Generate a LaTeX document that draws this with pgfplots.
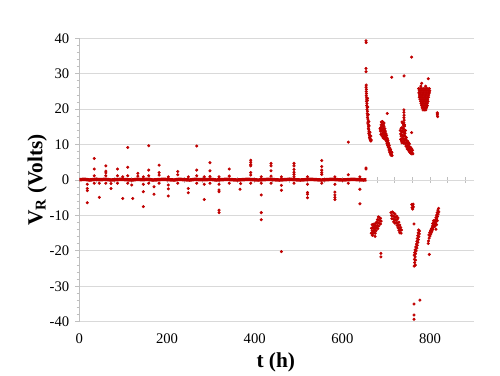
\documentclass[border=0pt]{standalone}
\usepackage{fontspec}
\setmainfont{Liberation Serif}
\usepackage{pgfplots}
\pgfplotsset{compat=1.18}
\definecolor{dred}{RGB}{192,0,0}
\definecolor{gridc}{RGB}{217,217,217}
\definecolor{axc}{RGB}{191,191,191}
\pgfplotsset{dots/.style={only marks, mark=*, mark size=0.95pt, dred}}
\begin{document}
\begin{tikzpicture}
% x axis line at y=0 with ticks every 40 h
\begin{axis}[
 at={(0,0)}, anchor=south west,
 scale only axis, width=295.9pt, height=212.55pt,
 xmin=0,xmax=900,ymin=-40,ymax=40,
 axis x line=middle, axis y line=none,
 axis line style={-, draw=axc, line width=0.75pt},
 xtick={0,40,...,880}, xticklabels={},
 major tick length=4pt, tick align=center,
 every tick/.style={draw=axc, line width=0.75pt},
]
\addplot[draw=none] coordinates {(0,0)};
\end{axis}
\begin{axis}[
 at={(0,0)}, anchor=south west,
 scale only axis, width=295.9pt, height=212.55pt,
 xmin=0,xmax=900,ymin=-40,ymax=40,
 axis x line*=bottom, axis y line*=left,
 x axis line style={draw=none},
 y axis line style={draw=axc, line width=0.75pt, -},
 xtick={0,200,...,800}, xticklabels={0,200,400,600,800},
 ytick={-40,-30,...,40}, yticklabels={-40,-30,-20,-10,0,10,20,30,40},
 minor y tick num=4,
 tick align=outside,
 major tick length=3pt, minor tick length=2pt,
 x tick style={draw=none},
 y tick style={draw=axc, line width=0.75pt},
 ymajorgrids, grid style={draw=gridc, line width=0.75pt},
 tick label style={font=\fontsize{11}{13}\selectfont},
 xticklabel style={anchor=center, yshift=-10pt},
 yticklabel style={anchor=east, xshift=-1pt},
 xlabel={\textbf{t (h)}}, ylabel={\textbf{V\textsubscript{R} (Volts)}},
 label style={font=\fontsize{16}{19}\selectfont},
 xlabel style={at={(axis description cs:0.498,-0.142)}, anchor=center},
 ylabel style={at={(axis description cs:-0.107,0.5)}, anchor=center},
]
% baseline band
\addplot[draw=dred, line width=2.6pt] coordinates {
(0,0.1)(12,0.2)(24,0.0)(36,0.2)(48,0.1)(60,0.2)(72,0.0)(84,0.1)(96,0.2)(108,0.1)
(120,0.0)(132,0.2)(144,0.1)(156,0.2)(168,0.0)(180,0.1)(192,0.2)(204,0.1)(216,0.0)
(228,0.2)(240,0.1)(252,0.0)(264,0.2)(276,0.1)(288,0.1)(300,0.2)(312,0.0)(324,0.1)
(336,0.2)(348,0.1)(360,0.0)(372,0.1)(384,0.2)(396,0.1)(408,0.0)(420,0.1)(432,0.2)
(444,0.1)(456,0.0)(468,0.1)(480,0.2)(492,0.1)(504,0.0)(516,0.1)(528,0.2)(540,0.1)
(552,0.0)(564,0.1)(576,0.2)(588,0.1)(600,0.0)(612,0.1)(624,0.2)(636,0.1)(648,0.0)(655,0.1)};
% spikes near baseline
\addplot[dots] coordinates {
(34,6.1)(34,3.1)(34,1.2)(60.5,4.0)(60.5,2.5)(60.5,2.0)(60.5,1.2)(87,3.1)(87,1.2)
(110.4,9.2)(110.4,3.6)(110.4,1.2)(133.5,1.9)(133.5,1.1)(158.3,9.7)(158.3,2.8)(158.3,1.2)
(182,4.2)(182,2.1)(182,1.4)(224.5,2.4)(224.5,1.5)(267.8,9.6)(267.8,2.8)(267.8,1.2)
(298,4.9)(298,2.6)(298,1.0)(342,3.1)(342,1.1)
(391,5.6)(391,5.0)(391,4.4)(391,4.0)(391,2.1)(391,1.4)
(437.3,4.7)(437.3,4.0)(437.3,2.6)(437.3,1.1)
(489.7,4.7)(489.7,4.0)(489.7,3.0)(489.7,2.2)(489.7,1.6)(489.7,0.9)
(553,5.5)(553,3.8)(553,2.8)(553,2.1)(553,1.6)(613.6,10.7)(613.6,1.5)(654,3.1)
(18.2,-2.4)(18.2,-3.0)(18.2,-6.4)(18.2,-1.2)(45.6,-4.9)(45.6,-0.9)(72.3,-2.4)(72.3,-1.0)
(99,-5.2)(119.5,-1.4)(121.8,-5.2)(146,-3.3)(146,-7.5)(146,-1.2)(170.4,-1.9)(170.4,-4.0)
(203,-1.4)(203,-2.5)(203,-4.5)(248.6,-2.4)(248.6,-3.6)(285,-1.2)(285,-5.5)
(318.7,-2.8)(318.7,-3.3)(318.7,-8.5)(318.7,-9.2)(318.7,-1.2)(366.6,-2.6)(368,-1.0)
(415,-0.9)(415,-4.2)(415,-9.2)(415,-11.2)(461,-1.5)(461,-2.9)(461,-20.2)
(520.5,-3.5)(520.5,-4.0)(520.5,-5.0)(520.5,-1.2)
(583,-1.2)(583,-3.4)(583,-4.2)(583,-4.9)(583,-5.5)(640,-2.6)(640,-6.7)
(99,0.9)(146,0.9)(203,0.9)(248.6,0.9)(285,0.9)(318.7,0.9)(415,0.9)(461,0.9)(520.5,0.9)(583,0.9)(640,0.9)
(34,-0.9)(60.5,-0.9)(87,-0.9)(110.4,-0.9)(158.3,-0.9)(182,-0.9)(224.5,-0.9)(267.8,-0.9)(298,-0.9)(342,-0.9)(391,-0.9)(437.3,-0.9)(489.7,-0.9)(553,-0.9)(613.6,-0.9)
};
% cluster A
\addplot[dots] coordinates {
(654,39.3)(654.3,38.8)(654,31.5)(654,30.6)(654,3.4)
(654.5,26.8)(654.2,26.2)(654.8,25.6)(654.4,25.0)(655,24.4)(654.6,23.8)(655.3,23.2)(655.8,22.7)
(655,22.2)(657.5,23.1)(656.2,21.6)(655.6,21.0)(656.8,20.5)(656.2,19.9)(657.3,19.4)(656.8,18.8)
(657.8,18.3)(657.3,17.7)(658.3,17.2)(658.8,16.6)(658.2,16.1)(659.3,15.6)(659.9,15.1)(659.4,14.6)
(660.4,14.2)(661,13.7)(660.5,13.2)(661.6,12.9)(662.2,12.5)(661.8,12.0)(662.8,11.8)(663.5,11.5)
(664.3,11.2)(665,11.0)(666,11.3)(663,13.5)(665,12.4)(661,15.3)(659,18.5)(658,20.6)(657,22.4)(660.5,16.5)
};
% cluster B
\addplot[dots] coordinates {
(702.5,18.8)(712.6,29.0)
(687,13.8)(687.5,14.8)(688,12.9)(688.5,15.6)(689,14.2)(689.5,13.0)(690,16.2)(690.5,15.0)(690.5,13.8)
(691,12.4)(691.5,16.5)(692,15.4)(692,14.2)(692.5,13.1)(693,11.9)(693.5,15.8)(694,14.6)(694,13.4)
(694.5,12.3)(695,15.2)(695.5,14.0)(696,12.8)(696,11.6)(697,14.5)(697,13.3)(697.5,12.1)(698,13.8)
(698.5,12.6)(699,11.4)(699.5,13.1)(700,12.0)(700.5,10.9)(701,12.6)(701.5,11.4)(702,10.3)(702.5,11.8)
(703,10.8)(703.5,9.7)(704,11.2)(704.5,10.1)(705,9.2)(705.5,10.4)(706,9.4)(706.5,8.5)(707,9.8)
(707.5,8.8)(708,7.9)(708.5,9.0)(709,8.2)(709.5,7.4)(710,8.6)(710.5,7.7)(711,7.0)(711.5,8.0)
(712,7.3)(713,7.8)(713.5,6.9)(686,14.5)(689,16.4)(695,16.1)
};
% cluster C
\addplot[dots] coordinates {
(740.7,29.4)(758,34.7)(758,13.4)
(740.5,19.8)(740.5,19.1)(740.8,18.3)(740.5,17.6)(741,16.9)(740.3,16.2)(739.5,15.5)(741.8,15.6)
(732,14)(733,13)(733,11.5)(734,14.6)(734,12.4)(735,13.6)(735,11)(736,14.8)(736,12.8)(736,10.5)
(737,13.8)(737,11.8)(738,14.6)(738,12.6)(738,10.8)(739,13.6)(739,11.6)(740,14.4)(740,12.4)(740,10.4)
(741,13.4)(741,11.2)(742,12.6)(742,10.6)(743,13.2)(743,11.6)(744,12.2)(744,10.2)(745,11.4)(745,9.6)
(746,12)(746,10.6)(747,11)(747,9.4)(748,10.4)(748,8.8)(749,11)(749,9.6)(750,10)(750,8.6)(751,10.6)
(751,9.2)(752,9.6)(752,8.2)(753,10.2)(753,8.8)(754,9.2)(754,7.8)(755,8.6)(756,9.2)(756,7.6)(757,8.2)
(758,8.8)(758,7.4)(759,7.8)(760,8.4)(761,7.4)(738,16)(742,15.2)(744,14)(736,16.4)
};
% cluster D and E
\addplot[dots] coordinates {
(781,27.3)(796,28.6)(779,26.5)(790,26.5)
(774,25.8)(777.5,25.8)(781,25.8)(784.5,25.8)(788,25.8)(791.5,25.8)(795,25.8)(798.5,25.8)
(775.5,25.2)(779,25.2)(782.5,25.2)(786,25.2)(789.5,25.2)(793,25.2)(796.5,25.2)(799.5,25.2)
(774.5,24.6)(778,24.6)(781.5,24.6)(785,24.6)(788.5,24.6)(792,24.6)(795.5,24.6)(798.5,24.6)
(776,24.0)(779.5,24.0)(783,24.0)(786.5,24.0)(790,24.0)(793.5,24.0)(797,24.0)
(775.5,23.4)(779,23.4)(782.5,23.4)(786,23.4)(789.5,23.4)(793,23.4)(796.5,23.4)
(777,22.8)(780.5,22.8)(784,22.8)(787.5,22.8)(791,22.8)(794.5,22.8)
(778.5,22.2)(782,22.2)(785.5,22.2)(789,22.2)(792.5,22.2)(795.5,22.2)
(779.5,21.6)(783,21.6)(786.5,21.6)(790,21.6)(793.5,21.6)
(781,21.0)(784.5,21.0)(788,21.0)(791.5,21.0)(794,21.0)
(782,20.4)(785.5,20.4)(789,20.4)(792,20.4)
(784,19.8)(787.5,19.8)(790.5,19.8)
(816.6,19.0)(816.6,18.4)(817.5,17.9)(816.8,18.7)
};
% cluster F
\addplot[dots] coordinates {
(682,-10.4)(684.5,-10.6)(687,-10.8)(680,-11.2)(683,-11.3)(686,-11.5)(688.5,-11.6)(678,-11.9)
(681,-12.0)(684,-12.2)(687,-12.4)(675,-12.3)(671,-12.5)(668,-12.6)(673,-13.0)(676.5,-12.9)
(680,-12.8)(683,-13.0)(669.5,-13.4)(666.5,-13.6)(672,-13.7)(675,-13.6)(678,-13.5)(681,-13.7)
(668,-14.3)(671,-14.4)(674,-14.2)(677,-14.3)(666,-15.0)(669,-15.1)(672,-15.0)(675,-15.0)
(668.5,-15.6)(674.5,-15.9)(688,-20.7)(688,-21.7)
};
% cluster G
\addplot[dots] coordinates {
(711,-9.2)(714,-9.0)(717,-9.3)(720,-9.6)(712,-10.0)(715,-10.1)(718,-10.3)(721,-10.5)(724,-10.2)
(713,-10.9)(716,-11.0)(719,-11.2)(722,-11.3)(725,-11.1)(727,-10.7)(723,-12.0)(726,-12.1)(729,-11.9)
(725,-12.8)(728,-12.8)(731,-12.7)(727,-13.5)(730,-13.5)(733,-13.4)(729,-14.2)(732,-14.2)(735,-14.1)
(731,-14.9)(734,-15.0)(717,-11.8)(720,-12.2)
};
% cluster H
\addplot[dots] coordinates {
(758.5,-6.9)(760,-7.2)(761.5,-6.8)(759,-7.8)(762,-7.6)(760.5,-8.2)(763.5,-12.4)
(774,-14.1)(776,-14.4)(773,-14.9)(775.5,-15.2)(772,-15.7)(774.5,-16.0)(771,-16.5)(773.5,-16.8)
(770,-17.3)(772.5,-17.6)(769,-18.1)(771,-18.4)(767.5,-18.9)(770,-19.2)(766,-19.7)(768.5,-20.0)
(765,-20.5)(767,-20.8)(764,-21.2)(766,-21.7)(764.5,-22.4)(767,-22.6)(765,-23.3)(766.5,-24.0)
(764,-24.3)(763.5,-35.0)(763.5,-38.1)(763.5,-39.3)(777,-33.9)
};
% cluster I
\addplot[dots] coordinates {
(819.5,-8.0)(818,-8.5)(820,-9.0)(816.5,-9.2)(818.5,-9.6)(815,-9.9)(817,-10.3)(813.5,-10.6)
(815.5,-11.0)(812,-11.3)(814,-11.7)(810.5,-12.0)(812.5,-12.4)(809,-12.7)(811,-13.1)(807.5,-13.4)
(805.5,-13.0)(806,-14.0)(803.5,-13.7)(804,-14.6)(801.5,-14.2)(802,-15.2)(799.5,-14.8)(800,-15.8)
(797.5,-15.5)(798,-16.4)(796.5,-17.2)(796,-17.9)(798.4,-21.0)(811,-12.7)(813.5,-13.9)(816.6,-11.5)
(815,-12.6)(808,-11.5)(806,-12.3)
};
\end{axis}
\pgfresetboundingbox
\path (-59.5pt,-40pt) rectangle (315.5pt,241.3pt);
\end{tikzpicture}
\end{document}
